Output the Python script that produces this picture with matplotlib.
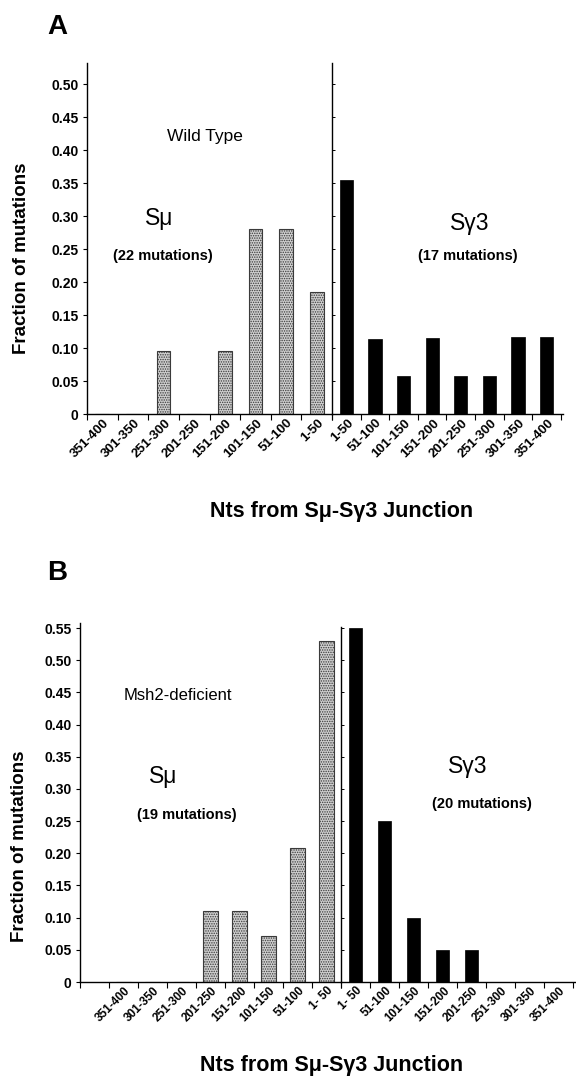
import matplotlib
matplotlib.use("Agg")
import matplotlib.pyplot as plt
import matplotlib.transforms as mtransforms
import numpy as np

plt.rcParams['font.family'] = ['Liberation Sans', 'DejaVu Sans']
plt.rcParams['hatch.linewidth'] = 0.7

# ---------------- data ----------------
a_mu_bins = ['351-400', '301-350', '251-300', '201-250', '151-200', '101-150', '51-100', '1-50']
a_mu_vals = [0.0, 0.0, 0.095, 0.0, 0.095, 0.28, 0.28, 0.185]
a_g3_bins = ['1-50', '51-100', '101-150', '151-200', '201-250', '251-300', '301-350', '351-400']
a_g3_vals = [0.355, 0.113, 0.058, 0.115, 0.057, 0.057, 0.117, 0.117]

b_mu_bins = ['351-400', '301-350', '251-300', '201-250', '151-200', '101-150', '51-100', '1- 50']
b_mu_vals = [0.0, 0.0, 0.0, 0.11, 0.11, 0.072, 0.208, 0.53]
b_g3_bins = ['1- 50', '51-100', '101-150', '151-200', '201-250', '251-300', '301-350', '351-400']
b_g3_vals = [0.55, 0.25, 0.10, 0.05, 0.05, 0.0, 0.0, 0.0]

a_yticks = [0, 0.05, 0.10, 0.15, 0.20, 0.25, 0.30, 0.35, 0.40, 0.45, 0.50]
b_yticks = [0, 0.05, 0.10, 0.15, 0.20, 0.25, 0.30, 0.35, 0.40, 0.45, 0.50, 0.55]

# ---------------- layout helpers ----------------
W, H = 576, 1079
fig = plt.figure(figsize=(W / 100, H / 100), dpi=100)


def add_ax(x0, x1, ytop, ybot):
    return fig.add_axes([x0 / W, 1 - ybot / H, (x1 - x0) / W, (ybot - ytop) / H])


def ftext(x, y, s, **kw):
    fig.text(x / W, 1 - y / H, s, ha='center', va='center', **kw)


def ytick_label(v):
    return '0' if v == 0 else f'{v:.2f}'


STIP = dict(facecolor='#cfcfcf', edgecolor='#3a3a3a', hatch='.......', linewidth=0.8)


def style_left(ax, ymax, yticks, nslots, xmax):
    ax.set_ylim(0, ymax)
    ax.set_xlim(0, xmax)
    for s in ['top', 'right']:
        ax.spines[s].set_visible(False)
    for s in ['left', 'bottom']:
        ax.spines[s].set_linewidth(1.0)
    ax.set_yticks(yticks)
    ax.set_yticklabels([ytick_label(v) for v in yticks], fontsize=10, fontweight='bold')
    ax.tick_params(axis='y', direction='out', length=3, width=0.8, pad=3)
    ax.set_xticks(np.arange(0, nslots + 1))
    ax.tick_params(axis='x', which='major', direction='out', length=4, width=0.8, labelbottom=False)


def style_right(ax, ymax, yticks, nslots, xmax, top):
    ax.set_ylim(0, ymax)
    ax.set_xlim(0, xmax)
    for s in ['top', 'right']:
        ax.spines[s].set_visible(False)
    ax.spines['left'].set_linewidth(1.0)
    ax.spines['left'].set_bounds(0, top)
    ax.spines['bottom'].set_linewidth(1.0)
    ax.set_yticks(yticks[1:])
    ax.tick_params(axis='y', direction='in', length=2.5, width=0.7, labelleft=False)
    ax.set_xticks(np.arange(0, nslots + 1))
    ax.tick_params(axis='x', which='major', direction='out', length=4, width=0.8, labelbottom=False)
    ax.patch.set_alpha(0)


def cat_labels(ax, centers, labels, dx=5, dy=-7, size=9):
    ax.set_xticks(centers, minor=True)
    ax.set_xticklabels(labels, minor=True, rotation=45, ha='right', va='center',
                       rotation_mode='anchor', fontsize=size, fontweight='bold')
    ax.tick_params(axis='x', which='minor', length=0, pad=0)
    off = mtransforms.ScaledTranslation(dx / 100, dy / 100, fig.dpi_scale_trans)
    for t in ax.get_xticklabels(minor=True):
        t.set_transform(t.get_transform() + off)


# ---------------- Panel A ----------------
axA1 = add_ax(87, 332, 63, 414)
axA2 = add_ax(332, 563, 63, 414)
yA = 0.532
style_left(axA1, yA, a_yticks, 8, 8)
style_right(axA2, yA, a_yticks, 8, 8.07, yA)
cA1 = np.arange(len(a_mu_bins)) + 0.5
cA2 = np.arange(len(a_g3_bins)) + 0.5
axA1.bar(cA1, a_mu_vals, width=0.45, **STIP)
axA2.bar(cA2, a_g3_vals, width=0.46, color='black', edgecolor='black', linewidth=0.5)
cat_labels(axA1, cA1, a_mu_bins, size=9.5)
cat_labels(axA2, cA2, a_g3_bins, size=9.5)

ftext(57, 27, 'A', fontsize=20, fontweight='bold')
ftext(205, 136, 'Wild Type', fontsize=12.5)
ftext(159, 219, 'Sμ', fontsize=16.5)
ftext(163, 256, '(22 mutations)', fontsize=10.5, fontweight='bold')
ftext(470, 224, 'Sγ3', fontsize=16.5)
ftext(468, 256, '(17 mutations)', fontsize=10.5, fontweight='bold')
ftext(22, 258, 'Fraction of mutations', fontsize=13.5, fontweight='bold', rotation=90)
ftext(342, 511, 'Nts from Sμ-Sγ3 Junction', fontsize=15.5, fontweight='bold')

# ---------------- Panel B ----------------
axB1 = add_ax(80, 341, 623, 982)
axB2 = add_ax(341, 576, 623, 982)
yB = 0.558
style_left(axB1, yB, b_yticks, 9, 9)
style_right(axB2, yB, b_yticks, 8, 8.1, 0.552)
cB1 = np.arange(len(b_mu_bins)) + 1.5
cB2 = np.arange(len(b_g3_bins)) + 0.5
axB1.bar(cB1, b_mu_vals, width=0.52, **STIP)
axB2.bar(cB2, b_g3_vals, width=0.43, color='black', edgecolor='black', linewidth=0.5)
cat_labels(axB1, cB1, b_mu_bins, size=8.5)
cat_labels(axB2, cB2, b_g3_bins, size=8.5)

ftext(57, 573, 'B', fontsize=20, fontweight='bold')
ftext(178, 696, 'Msh2-deficient', fontsize=12)
ftext(163, 777, 'Sμ', fontsize=16.5)
ftext(187, 815, '(19 mutations)', fontsize=10.5, fontweight='bold')
ftext(468, 766, 'Sγ3', fontsize=16.5)
ftext(482, 804, '(20 mutations)', fontsize=10.5, fontweight='bold')
ftext(20, 846, 'Fraction of mutations', fontsize=13.5, fontweight='bold', rotation=90)
ftext(332, 1066, 'Nts from Sμ-Sγ3 Junction', fontsize=15.5, fontweight='bold')

fig.savefig('out.png', dpi=100)
